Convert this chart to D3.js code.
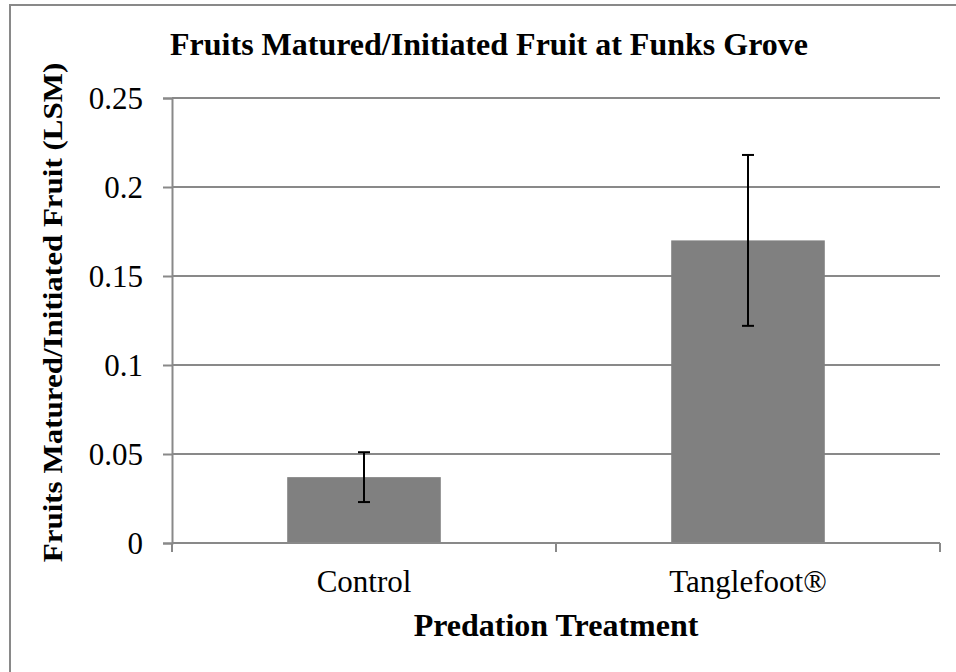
<!DOCTYPE html>
<html>
<head>
<meta charset="utf-8">
<script src="https://cdn.jsdelivr.net/npm/d3@7"></script>
<style>
  body { margin: 0; background: #fff; }
  text { font-family: "Liberation Serif", "Times New Roman", serif; fill: #000; }
</style>
</head>
<body>
<svg id="chart" width="956" height="672"></svg>
<script>
let width = 956;
let height = 672;

// data
const categories = ["Control", "Tanglefoot\u00ae"];
const means = [0.037, 0.170];
const errors = [0.014, 0.048];
const yTicks = [0, 0.05, 0.1, 0.15, 0.2, 0.25];

let margin = {left: 172, right: 16, top: 98, bottom: 129};
let gridColor = "#898989";

let svg = d3.select("#chart");

// outer chart border (runs off the right and bottom of the picture)
svg.append("rect")
  .attr("x", 10).attr("y", 5)
  .attr("width", 980).attr("height", 700)
  .attr("fill", "none")
  .attr("stroke", gridColor)
  .attr("stroke-width", 2);

let x = d3.scaleBand()
  .domain(categories)
  .range([margin.left, width - margin.right])
  .paddingInner(0.6)
  .paddingOuter(0.3);

let y = d3.scaleLinear()
  .domain([0, 0.25])
  .range([height - margin.bottom, margin.top]);

// gridlines
svg.append("g")
  .selectAll("line")
  .data(yTicks.slice(1))
  .enter()
  .append("line")
  .attr("x1", margin.left)
  .attr("x2", width - margin.right)
  .attr("y1", d => y(d))
  .attr("y2", d => y(d))
  .attr("stroke", gridColor)
  .attr("stroke-width", 2);

// y axis
let yAxis = svg.append("g")
  .attr("transform", `translate(${margin.left},0)`)
  .call(d3.axisLeft(y).tickValues(yTicks).tickFormat(d3.format("~g")).tickSize(9).tickPadding(20));
yAxis.select(".domain").attr("stroke", gridColor).attr("stroke-width", 2);
yAxis.selectAll(".tick line").attr("stroke", gridColor).attr("stroke-width", 2);
yAxis.selectAll(".tick text")
  .attr("font-size", 31)
  .attr("dy", "0.33em")
  .style("font-family", '"Liberation Serif", "Times New Roman", serif');

// bars
svg.append("g")
  .selectAll("rect")
  .data(categories)
  .enter()
  .append("rect")
  .attr("x", d => x(d))
  .attr("width", x.bandwidth())
  .attr("y", (d, i) => y(means[i]))
  .attr("height", (d, i) => y(0) - y(means[i]))
  .attr("fill", "#808080");

// x axis line + ticks at category boundaries
let step = x.step();
let bounds = [x(categories[0]) - step * 0.3].concat(categories.map(c => x(c) + x.bandwidth() + step * 0.3));
svg.append("line")
  .attr("x1", margin.left).attr("x2", width - margin.right)
  .attr("y1", y(0)).attr("y2", y(0))
  .attr("stroke", gridColor).attr("stroke-width", 2);
svg.append("g")
  .selectAll("line")
  .data(bounds)
  .enter()
  .append("line")
  .attr("x1", d => d).attr("x2", d => d)
  .attr("y1", y(0)).attr("y2", y(0) + 9)
  .attr("stroke", gridColor).attr("stroke-width", 2);

svg.append("g")
  .selectAll("text")
  .data(categories)
  .enter()
  .append("text")
  .attr("x", d => x(d) + x.bandwidth() / 2)
  .attr("y", 592)
  .attr("text-anchor", "middle")
  .attr("font-size", 31)
  .text(d => d);

// error bars
let err = svg.append("g").attr("stroke", "#000").attr("stroke-width", 2);
categories.forEach((c, i) => {
  let cx = x(c) + x.bandwidth() / 2;
  let hi = y(means[i] + errors[i]);
  let lo = y(means[i] - errors[i]);
  err.append("line").attr("x1", cx).attr("x2", cx).attr("y1", hi).attr("y2", lo);
  err.append("line").attr("x1", cx - 6).attr("x2", cx + 6).attr("y1", hi).attr("y2", hi);
  err.append("line").attr("x1", cx - 6).attr("x2", cx + 6).attr("y1", lo).attr("y2", lo);
});

// titles
svg.append("text")
  .attr("x", 489)
  .attr("y", 55)
  .attr("text-anchor", "middle")
  .attr("font-size", 32)
  .attr("font-weight", "bold")
  .text("Fruits Matured/Initiated Fruit at Funks Grove");

svg.append("text")
  .attr("x", 556)
  .attr("y", 636)
  .attr("text-anchor", "middle")
  .attr("font-size", 32)
  .attr("font-weight", "bold")
  .text("Predation Treatment");

// y title is a bit narrower across its column than the font gives
svg.append("text")
  .attr("transform", `translate(62,${(y(0) + y(0.25)) / 2 - 8}) rotate(-90) scale(1,0.9)`)
  .attr("text-anchor", "middle")
  .attr("font-size", 31)
  .attr("font-weight", "bold")
  .text("Fruits Matured/Initiated Fruit (LSM)");
</script>
</body>
</html>
